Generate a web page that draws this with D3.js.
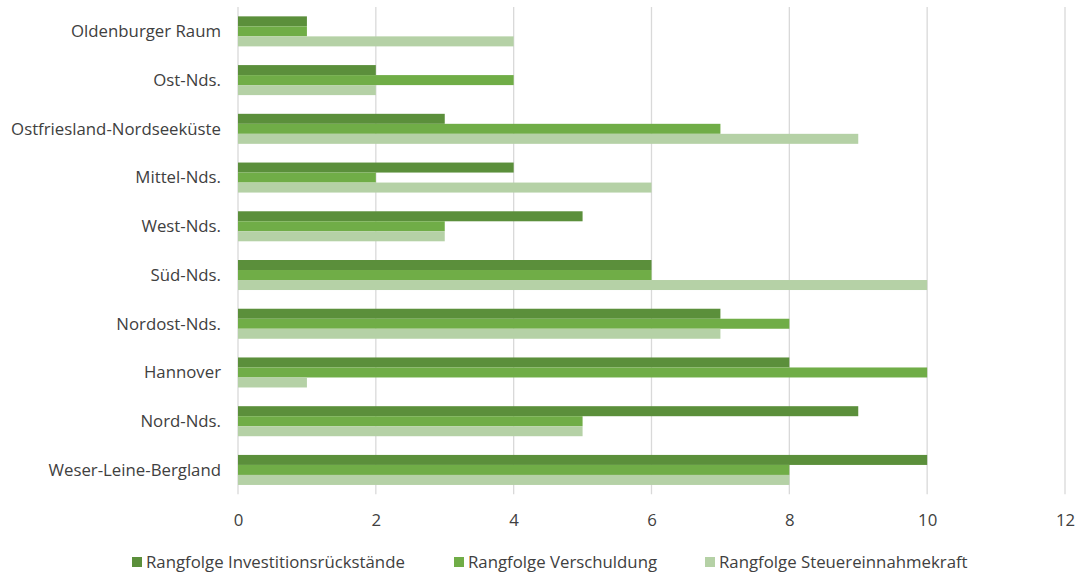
<!DOCTYPE html>
<html>
<head>
<meta charset="utf-8">
<script src="https://cdn.jsdelivr.net/npm/d3@7/dist/d3.min.js"></script>
<style>
  html, body { margin: 0; padding: 0; background: #fff; }
  svg text { font-family: "Open Sans", "Noto Sans", sans-serif; fill: #404040; }
</style>
</head>
<body>
<svg id="chart" width="1083" height="574"></svg>
<script>
// Regions (top to bottom)
const regions = [
  "Oldenburger Raum", "Ost-Nds.", "Ostfriesland-Nordseeküste", "Mittel-Nds.",
  "West-Nds.", "Süd-Nds.", "Nordost-Nds.", "Hannover", "Nord-Nds.", "Weser-Leine-Bergland"
];
const seriesNames = [
  "Rangfolge Investitionsrückstände",
  "Rangfolge Verschuldung",
  "Rangfolge Steuereinnahmekraft"
];
const investitionsrueckstaende = [1, 2, 3, 4, 5, 6, 7, 8, 9, 10];
const verschuldung            = [1, 4, 7, 2, 3, 6, 8, 10, 5, 8];
const steuereinnahmekraft     = [4, 2, 9, 6, 3, 10, 7, 1, 5, 8];
const xTicks = [0, 2, 4, 6, 8, 10, 12];
const colors = ["#5b8f3b", "#70ad47", "#b5d1a6"];

const series = [investitionsrueckstaende, verschuldung, steuereinnahmekraft];

const svg = d3.select("#chart");
const plotLeft = 238, plotRight = 1065, plotTop = 7, plotBottom = 494.3;
const fontSize = 16.8;

const x = d3.scaleLinear().domain([0, 12]).range([plotLeft, plotRight]);
const y = d3.scaleBand().domain(regions).range([plotTop, plotBottom])
  .paddingInner(0.384).paddingOuter(0.192);
const ySub = d3.scaleBand().domain(d3.range(series.length)).range([0, y.bandwidth()]);

// vertical gridlines
svg.append("g").selectAll("line").data(xTicks).join("line")
  .attr("x1", d => x(d)).attr("x2", d => x(d))
  .attr("y1", plotTop).attr("y2", plotBottom)
  .attr("stroke", "#d9d9d9").attr("stroke-width", 1.3);

// bars
const groups = svg.append("g").selectAll("g").data(regions).join("g")
  .attr("transform", d => `translate(0,${y(d)})`);
groups.selectAll("rect")
  .data((d, i) => series.map((s, k) => ({ k, v: s[i] })))
  .join("rect")
  .attr("x", x(0))
  .attr("y", d => ySub(d.k))
  .attr("width", d => x(d.v) - x(0))
  .attr("height", ySub.bandwidth())
  .attr("fill", d => colors[d.k]);

// category labels
svg.append("g").selectAll("text").data(regions).join("text")
  .attr("x", 221)
  .attr("y", d => y(d) + y.bandwidth() / 2)
  .attr("dy", "0.35em")
  .attr("text-anchor", "end")
  .attr("font-size", fontSize)
  .text(d => d);

// x axis tick labels
const xAxis = d3.axisBottom(x).tickValues(xTicks).tickSize(0).tickPadding(0);
const gx = svg.append("g").attr("transform", `translate(0,${plotBottom})`).call(xAxis);
gx.select(".domain").remove();
gx.selectAll("text")
  .attr("y", 32)
  .attr("dy", "0")
  .attr("font-size", fontSize)
  .attr("font-family", null)
  .style("fill", "#404040");

// legend
const legendX = [132, 454, 705];
const legend = svg.append("g").selectAll("g").data(seriesNames).join("g")
  .attr("transform", (d, i) => `translate(${legendX[i]},562)`);
legend.append("rect")
  .attr("x", 0).attr("y", -5).attr("width", 10).attr("height", 10)
  .attr("fill", (d, i) => colors[i]);
legend.append("text")
  .attr("x", 14).attr("dy", "0.35em")
  .attr("font-size", fontSize)
  .text(d => d);
</script>
</body>
</html>
